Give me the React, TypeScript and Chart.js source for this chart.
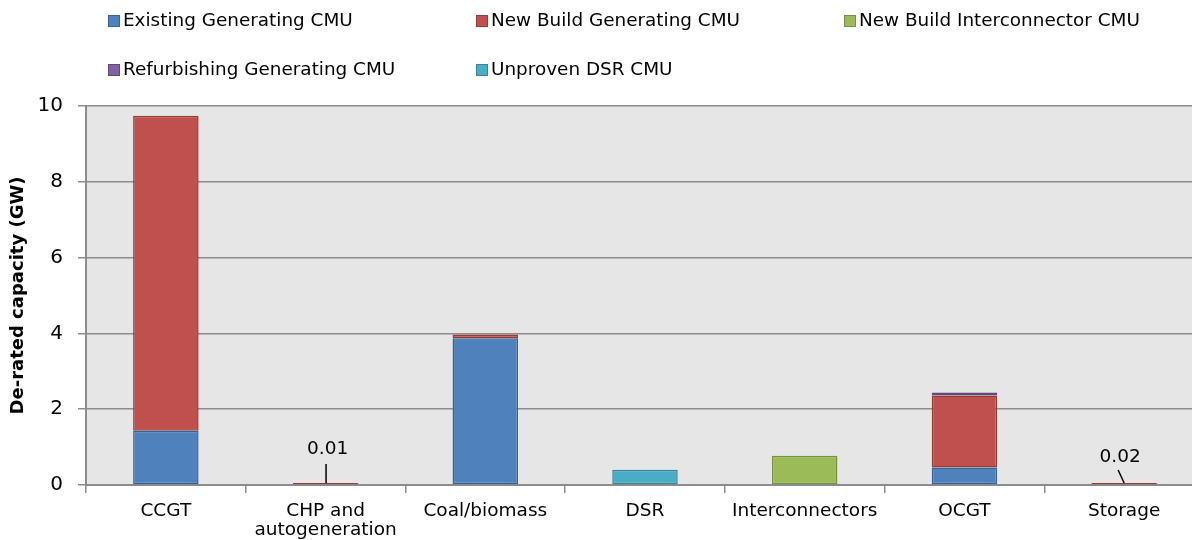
import React, { useEffect, useRef } from "react";
import { Chart, registerables } from "chart.js";

Chart.register(...registerables);

const categories: (string | string[])[] = [
  "CCGT",
  ["CHP and", "autogeneration"],
  "Coal/biomass",
  "DSR",
  "Interconnectors",
  "OCGT",
  "Storage",
];
const existingGenerating = [1.43, null, 3.87, null, null, 0.46, null];
const newBuildGenerating = [8.31, 0.01, 0.1, null, null, 1.9, 0.02];
const newBuildInterconnector = [null, null, null, null, 0.77, null, null];
const refurbishingGenerating = [null, null, null, null, null, 0.08, null];
const unprovenDSR = [null, null, null, 0.4, null, null, null];
const yTicks = [0, 2, 4, 6, 8, 10];
// small totals annotated with callouts (category indices)
const calloutIndex = [1, 6];

const FONT = "'DejaVu Sans', Verdana, sans-serif";

const legendItems = [
  { label: "Existing Generating CMU", fill: "#4f81bd", border: "#3a6395" },
  { label: "New Build Generating CMU", fill: "#c0504d", border: "#943c3a" },
  { label: "New Build Interconnector CMU", fill: "#9bbb59", border: "#77913f" },
  { label: "Refurbishing Generating CMU", fill: "#8064a2", border: "#5f4a7a" },
  { label: "Unproven DSR CMU", fill: "#4bacc6", border: "#36849a" },
];

export default function App() {
  const ref = useRef<HTMLCanvasElement>(null);

  useEffect(() => {
    document.body.style.overflow = "hidden";
    const canvas = ref.current!;
    const series = [
      existingGenerating,
      newBuildGenerating,
      newBuildInterconnector,
      refurbishingGenerating,
      unprovenDSR,
    ];

    const bgPlugin = {
      id: "bg",
      beforeDraw(chart: any) {
        const { ctx, chartArea } = chart;
        ctx.save();
        ctx.fillStyle = "#e6e6e6";
        ctx.fillRect(chartArea.left, chartArea.top, chartArea.right - chartArea.left, chartArea.bottom - chartArea.top);
        ctx.restore();
      },
    };

    const legendPlugin = {
      id: "customLegend",
      afterDraw(chart: any) {
        const ctx = chart.ctx;
        const cols = [108, 476, 844];
        const rows = [21, 70];
        ctx.save();
        ctx.font = `18.4px ${FONT}`;
        ctx.textBaseline = "middle";
        ctx.textAlign = "left";
        legendItems.forEach((it, i) => {
          const x = cols[i % 3];
          const y = rows[Math.floor(i / 3)];
          ctx.fillStyle = it.fill;
          ctx.fillRect(x + 0.5, y - 5.5, 11, 11);
          ctx.strokeStyle = it.border;
          ctx.lineWidth = 1;
          ctx.strokeRect(x + 0.5, y - 5.5, 11, 11);
          ctx.fillStyle = "#000";
          ctx.fillText(it.label, x + 15, y);
        });
        ctx.restore();
      },
    };

    const calloutPlugin = {
      id: "callouts",
      afterDatasetsDraw(chart: any) {
        const ctx = chart.ctx;
        const xs = chart.scales.x;
        const ys = chart.scales.y;
        ctx.save();
        ctx.font = `18.5px ${FONT}`;
        ctx.fillStyle = "#000";
        ctx.strokeStyle = "#000";
        ctx.lineWidth = 1.5;
        ctx.textAlign = "center";
        ctx.textBaseline = "middle";
        calloutIndex.forEach((idx, k) => {
          const total = series.reduce((s: number, arr) => s + (arr[idx] ?? 0), 0);
          const cx = xs.getPixelForValue(idx);
          const by = ys.getPixelForValue(0);
          ctx.beginPath();
          if (k === 0) {
            ctx.moveTo(cx + 0.5, by - 21);
            ctx.lineTo(cx + 0.5, by - 2);
            ctx.stroke();
            ctx.fillText(total.toFixed(2), cx + 2, by - 36);
          } else {
            ctx.moveTo(cx - 6, by - 15);
            ctx.lineTo(cx, by - 2);
            ctx.stroke();
            ctx.fillText(total.toFixed(2), cx - 4, by - 28);
          }
        });
        ctx.restore();
      },
    };

    const mk = (label: string, data: (number | null)[], i: number) => ({
      label,
      data,
      backgroundColor: legendItems[i].fill,
      borderColor: legendItems[i].border,
      borderWidth: 1.5,
      borderSkipped: false,
      minBarLength: 2,
      stack: "s",
      barPercentage: 0.41,
      categoryPercentage: 1,
    });

    const chart = new Chart(canvas, {
      type: "bar",
      data: {
        labels: categories,
        datasets: [
          mk(legendItems[0].label, existingGenerating, 0),
          mk(legendItems[1].label, newBuildGenerating, 1),
          mk(legendItems[2].label, newBuildInterconnector, 2),
          mk(legendItems[3].label, refurbishingGenerating, 3),
          mk(legendItems[4].label, unprovenDSR, 4),
        ],
      },
      options: {
        animation: false,
        responsive: false,
        events: [],
        layout: { padding: { top: 106, left: 0, right: 0, bottom: 0 } },
        plugins: {
          legend: { display: false },
          tooltip: { enabled: false },
          title: { display: false },
        },
        scales: {
          x: {
            stacked: true,
            grid: {
              display: true,
              drawOnChartArea: false,
              drawTicks: true,
              tickLength: 8,
              color: "#8c8c8c",
              lineWidth: 1.5,
              offset: true,
            },
            border: { display: true, color: "#8c8c8c", width: 2 },
            ticks: {
              color: "#000",
              font: { family: FONT, size: 18.5, lineHeight: 1.05 },
              padding: 8,
              maxRotation: 0,
              autoSkip: false,
            },
            afterFit(scale: any) {
              scale.height = 55;
            },
          },
          y: {
            stacked: true,
            min: 0,
            max: 10,
            afterBuildTicks(scale: any) {
              scale.ticks = yTicks.map((v) => ({ value: v }));
            },
            grid: {
              color: "#8c8c8c",
              lineWidth: 1.5,
              tickLength: 8,
            },
            border: { display: true, color: "#8c8c8c", width: 2 },
            ticks: {
              color: "#000",
              font: { family: FONT, size: 20 },
              padding: 15,
            },
            title: {
              display: true,
              text: "De-rated capacity (GW)",
              color: "#000",
              font: { family: FONT, size: 18, weight: "bold" },
              padding: { top: 7.5, bottom: 0 },
            },
            afterFit(scale: any) {
              scale.width = 86;
            },
          },
        },
      },
      plugins: [bgPlugin, legendPlugin, calloutPlugin],
    } as any);

    return () => chart.destroy();
  }, []);

  return (
    <div style={{ position: "absolute", left: 0, top: 0, width: 1204, height: 540 }}>
      <canvas ref={ref} width={1204} height={540} style={{ display: "block" }} />
    </div>
  );
}
